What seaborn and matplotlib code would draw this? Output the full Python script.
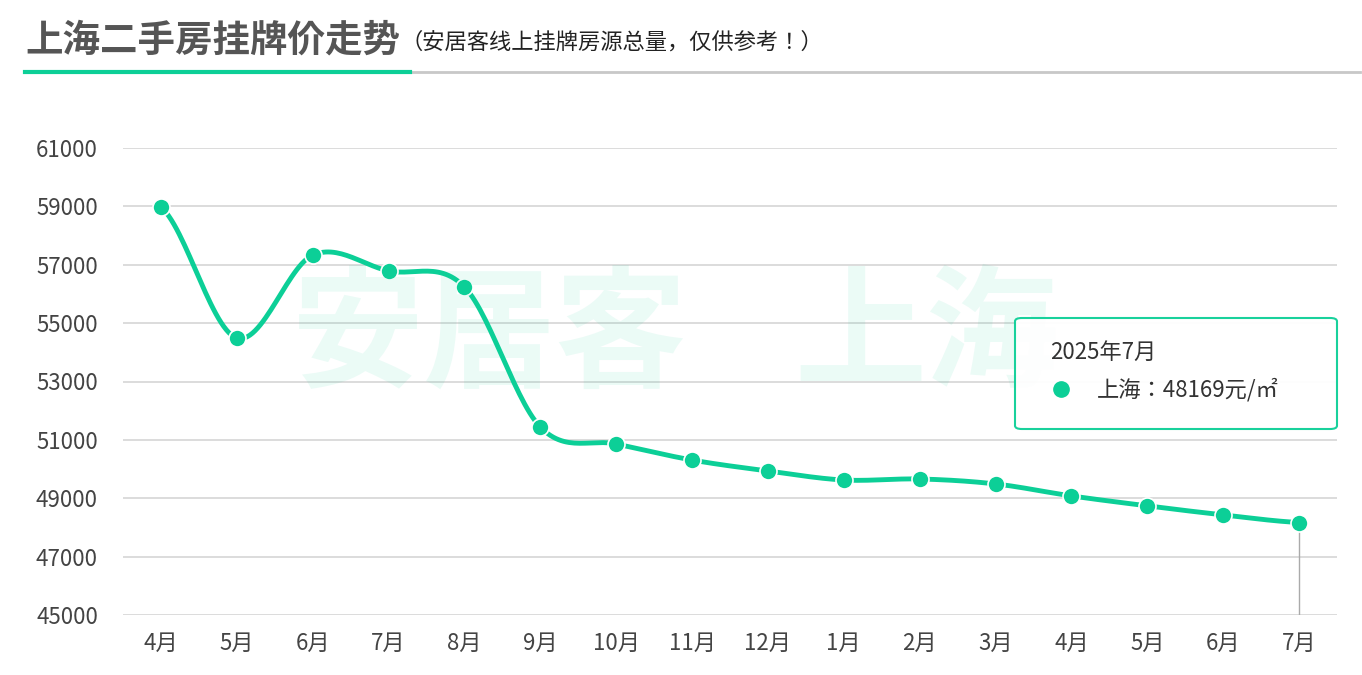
import numpy as np
import pandas as pd
import seaborn as sns
import matplotlib
matplotlib.use("Agg")
import matplotlib.pyplot as plt
from matplotlib.patches import FancyBboxPatch
from matplotlib import font_manager as fm

names = {f.name for f in fm.fontManager.ttflist}
cands = [n for n in ["Noto Sans CJK SC", "Noto Sans CJK JP", "Noto Sans CJK TC", "Noto Sans CJK KR", "Noto Sans SC"] if n in names]
if not cands:
    cands = [f.name for f in fm.fontManager.ttflist if "CJK" in f.name or "CJK" in f.fname][:1]
plt.rcParams["font.family"] = cands + ["DejaVu Sans"]

months = ["4月","5月","6月","7月","8月","9月","10月","11月","12月","1月","2月","3月","4月","5月","6月","7月"]
prices = [58980, 54490, 57330, 56790, 56240, 51440, 50860, 50310, 49935, 49625, 49660, 49490, 49080, 48740, 48430, 48169]
yticks = [45000, 47000, 49000, 51000, 53000, 55000, 57000, 59000, 61000]
color = "#0ccf97"

fig = plt.figure(figsize=(13.62, 6.75), dpi=100)
ax = fig.add_axes([123/1362, 1-615/675, (1337-123)/1362, (615-148)/675])

x = np.arange(len(prices))
y = np.array(prices, float)
xs, ys = [], []
P = np.concatenate([[y[0]], y, [y[-1]]])
for i in range(len(y)-1):
    p0, p1, p2, p3 = P[i], P[i+1], P[i+2], P[i+3]
    t = np.linspace(0, 1, 30)
    yy = 0.5*((2*p1) + (-p0+p2)*t + (2*p0-5*p1+4*p2-p3)*t**2 + (-p0+3*p1-3*p2+p3)*t**3)
    xs.extend(i+t); ys.extend(yy)
sns.lineplot(x=xs, y=ys, ax=ax, color=color, lw=3.5, sort=False)
sns.scatterplot(x=x, y=y, ax=ax, color=color, s=150, edgecolor="white", linewidth=1.2, zorder=5)

ax.set_xlim(-0.5, len(prices)-0.5)
ax.set_ylim(45000, 61000)
ax.set_yticks(yticks)
ax.set_yticklabels([str(v) for v in yticks], fontsize=16, color="#444")
ax.set_xticks(x)
ax.set_xticklabels(months, fontsize=16, color="#444")
ax.grid(axis="y", color="#d5d5d5", lw=1.2)
ax.set_axisbelow(True)
for s in ax.spines.values():
    s.set_visible(False)
ax.tick_params(axis="y", length=0, pad=18)
ax.tick_params(axis="x", length=0, pad=12)
ax.axvline(x[-1], ymin=0, ymax=(y[-1]-45000)/16000, color="#aaa", lw=1)

fig.text(0.36, 0.50, "安居客", fontsize=95, color=color, alpha=0.08, ha="center", va="center", weight="bold")
fig.text(0.68, 0.50, "上海", fontsize=95, color=color, alpha=0.08, ha="center", va="center", weight="bold", style="italic")

fig.text(25/1362, 1-40/675, "上海二手房挂牌价走势", fontsize=27, weight="bold", color="#555", va="center")
fig.text(400/1362, 1-42/675, "（安居客线上挂牌房源总量，仅供参考！）", fontsize=16, color="#222", va="center")
fig.add_artist(plt.Line2D([25/1362, 1360/1362], [1-72/675]*2, color="#c8c8c8", lw=2))
fig.add_artist(plt.Line2D([25/1362, 410/1362], [1-72/675]*2, color=color, lw=3))

box = FancyBboxPatch((1015/1362, 1-429/675), 322/1362, 111/675, boxstyle="round,pad=0,rounding_size=0.005",
                     transform=fig.transFigure, facecolor="white", edgecolor=color, lw=1.5, alpha=0.95, zorder=10)
fig.add_artist(box)
fig.text(1050/1362, 1-352/675, "2025年7月", fontsize=16, color="#333", va="center", zorder=11)
fig.add_artist(plt.Line2D([1061/1362], [1-389/675], marker="o", ms=11, color=color, transform=fig.transFigure, zorder=11))
fig.text(1097/1362, 1-390/675, "上海：48169元/㎡", fontsize=16, color="#333", va="center", zorder=11)

fig.savefig("out.png", dpi=100, facecolor="white")
